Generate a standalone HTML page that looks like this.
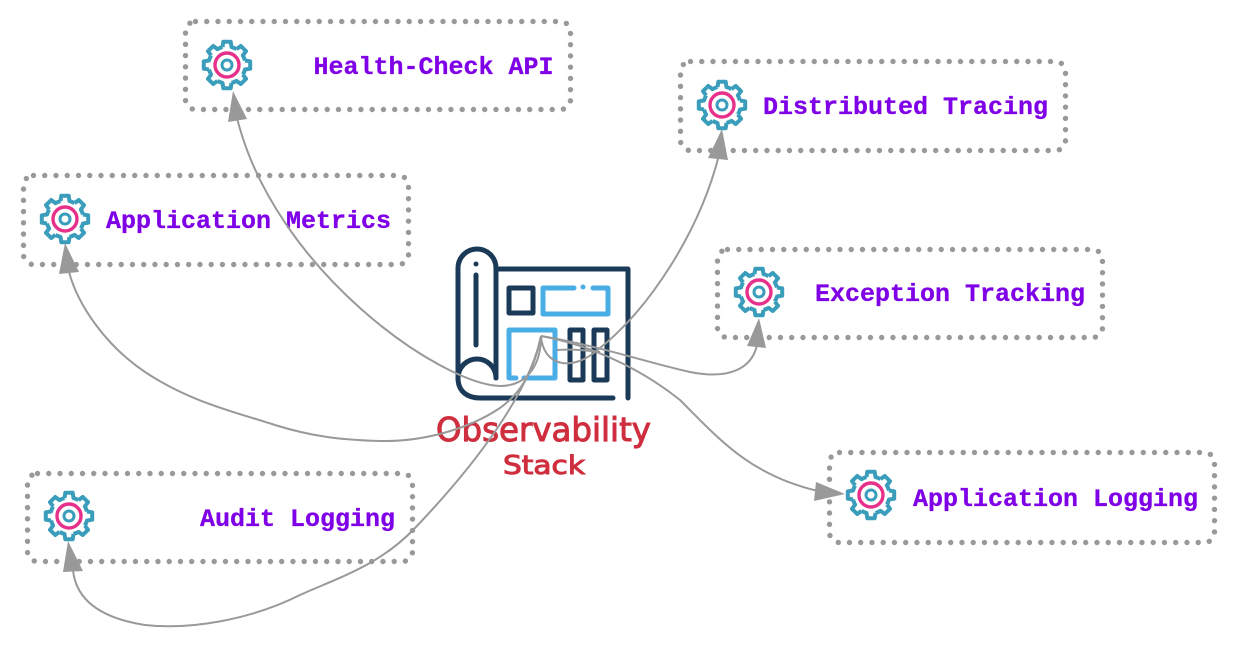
<!DOCTYPE html>
<html><head><meta charset="utf-8"><style>
html,body{margin:0;padding:0;background:#fff;width:1239px;height:653px;overflow:hidden}
svg{display:block}
.b{fill:none;stroke:#999;stroke-width:5.4;stroke-linecap:round;stroke-dasharray:0 11.25}
.t{font-family:"Liberation Mono",monospace;font-weight:bold;font-size:25px;fill:#7f00e6;stroke:#7f00e6;stroke-width:.3}
.c{fill:none;stroke:#999;stroke-width:2}
.a{fill:#999}
.d{fill:none;stroke:#1b3a57;stroke-width:5;stroke-linecap:round;stroke-linejoin:round}
.l{fill:none;stroke:#4aaee6;stroke-width:5;stroke-linecap:round;stroke-linejoin:round}
.r{font-family:"DejaVu Sans",sans-serif;fill:#cf2e3e;stroke:#cf2e3e;stroke-width:1}
</style></head><body>
<svg width="1239" height="653" viewBox="0 0 1239 653" xmlns="http://www.w3.org/2000/svg">
<defs>
<g id="tooth"><path d="M17.95,-4.48 L23.2,-3.7 L23.2,3.7 L17.95,4.48 A18.5,18.5 0 0 1 15.86,9.53" fill="none" stroke="#3a9dbb" stroke-width="4" stroke-linejoin="round"/></g>
<g id="gear">
<use href="#tooth"/><use href="#tooth" transform="rotate(45)"/><use href="#tooth" transform="rotate(90)"/><use href="#tooth" transform="rotate(135)"/><use href="#tooth" transform="rotate(180)"/><use href="#tooth" transform="rotate(225)"/><use href="#tooth" transform="rotate(270)"/><use href="#tooth" transform="rotate(315)"/>
<circle r="12" fill="none" stroke="#e6308a" stroke-width="3.4"/>
<circle r="5" fill="none" stroke="#3a9dbb" stroke-width="3"/>
</g>
</defs>
<rect class="b" x="185.500" y="21.500" width="385" height="88" rx="10"/>
<rect class="b" x="680.500" y="61.500" width="385" height="89" rx="10"/>
<rect class="b" x="23.500" y="175.500" width="385" height="89" rx="10"/>
<rect class="b" x="717.500" y="249.500" width="385" height="88" rx="10"/>
<rect class="b" x="27.500" y="473.500" width="385" height="88" rx="10"/>
<rect class="b" x="829.500" y="452.500" width="385" height="90" rx="10"/>

<use href="#gear" transform="translate(227,65)"/>
<use href="#gear" transform="translate(722,105)"/>
<use href="#gear" transform="translate(65,219)"/>
<use href="#gear" transform="translate(759,292)"/>
<use href="#gear" transform="translate(69,516)"/>
<use href="#gear" transform="translate(871,495)"/>

<text class="t" x="313.500" y="74">Health-Check API</text>
<text class="t" x="763" y="114">Distributed Tracing</text>
<text class="t" x="106" y="228">Application Metrics</text>
<text class="t" x="815" y="301">Exception Tracking</text>
<text class="t" x="200" y="526">Audit Logging</text>
<text class="t" x="913" y="506">Application Logging</text>

<!-- logo -->
<path class="d" d="M496,378 V268 A19,19 0 0 0 458,268 V378 C458,392 468,398 480,398 H613"/>
<path class="d" d="M458,378 A19,19 0 0 1 496,378"/>
<path class="d" d="M496,269 H628 V398"/>
<path class="d" d="M476,275 V345"/>
<circle cx="476" cy="264" r="2.500" fill="#1b3a57"/>
<rect class="d" x="509" y="288" width="24" height="25"/>
<path class="l" d="M574,288 H543 V314 H608 V288 H593"/>
<circle cx="583" cy="287" r="2.500" fill="#4aaee6"/>
<path class="l" d="M516,378 H509 V330 H555 V378 H524"/>
<rect class="d" x="570" y="330" width="13" height="50"/>
<rect class="d" x="594" y="330" width="13" height="50"/>

<text class="r" x="436" y="441" font-size="33" textLength="215" lengthAdjust="spacingAndGlyphs">Observability</text>
<text class="r" x="503" y="474" font-size="26" textLength="82" lengthAdjust="spacingAndGlyphs">Stack</text>

<!-- connectors -->
<path class="c" d="M541,336 C541,368 525,386 500,386 C440,384 275,270 237,118"/>
<path class="c" d="M541,336 C543,365 570,372 595,352 C650,310 700,230 719,155"/>
<path class="c" d="M541,336 C535,365 525,390 500,408 C470,428 425,442 380,441 C340,440 310,436 275,425 C235,412 190,402 145,372 C105,345 78,305 69,272"/>
<path class="c" d="M541,336 C600,346 645,362 690,372 C730,380 752,368 757,345"/>
<path class="c" d="M541,336 C530,390 480,460 415,528 C380,565 340,577 300,595 C250,620 190,630 145,625 C100,618 76,600 73,570"/>
<path class="c" d="M541,336 C590,345 640,368 680,400 C720,440 750,475 818,491"/>
<path class="c" d="M557,350 C570,349 585,350 600,352"/>

<polygon class="a" points="233,91 228,122 247,119"/>
<polygon class="a" points="722,129 708,158 728,160"/>
<polygon class="a" points="65,243 59,274 79,272"/>
<polygon class="a" points="759,318 747,346 766,348"/>
<polygon class="a" points="68,541 63,572 83,571"/>
<polygon class="a" points="845,494 816,482 814,501"/>
</svg>
</body></html>
